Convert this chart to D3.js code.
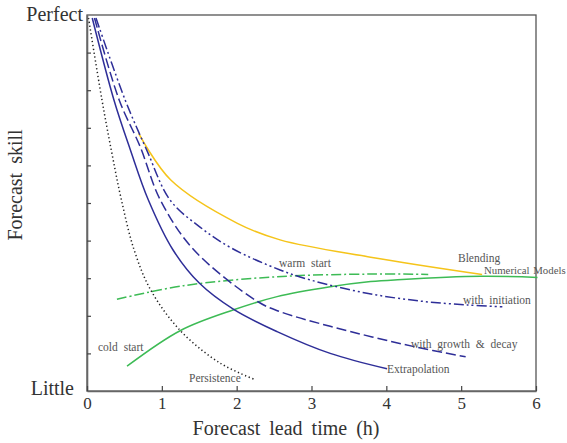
<!DOCTYPE html>
<html>
<head>
<meta charset="utf-8">
<script src="https://cdn.jsdelivr.net/npm/d3@7"></script>
<style>
  html, body { margin: 0; padding: 0; background: #fff; }
  svg text { font-family: "Liberation Serif", "Times New Roman", serif; }
</style>
</head>
<body>
<svg id="canvas"></svg>
<script>
// skill curves, [lead time (h), skill 0..10]
const persistence = [[0.02, 9.92], [0.2, 7.74], [0.33, 6.35], [0.46, 5.08], [0.63, 3.75], [0.85, 2.69], [1.25, 1.6], [1.78, 0.74], [2.25, 0.3]];
const extrapolation = [[0.07, 9.92], [0.36, 7.74], [0.58, 6.41], [0.82, 5.08], [1.15, 3.75], [1.5, 2.87], [1.96, 2.17], [2.54, 1.58], [3.25, 1.0], [4.01, 0.59]];
const growthDecay = [[0.1, 9.92], [0.43, 7.74], [0.71, 6.5], [0.98, 5.08], [1.43, 3.75], [2.28, 2.38], [2.58, 2.11], [3.25, 1.72], [4.37, 1.18], [5.06, 0.91]];
const initiation = [[0.12, 9.92], [0.51, 7.74], [0.8, 6.4], [1.11, 5.08], [1.51, 4.36], [1.94, 3.79], [2.58, 3.22], [2.99, 2.95], [3.74, 2.6], [4.46, 2.39], [5.08, 2.29], [5.55, 2.24]];
const blending = [[0.69, 6.85], [1.12, 5.61], [2.01, 4.46], [2.58, 4.02], [3.79, 3.56], [5.28, 3.1]];
const numerical = [[0.535, 0.66], [1.25, 1.61], [1.96, 2.16], [2.54, 2.51], [3.25, 2.77], [3.79, 2.91], [4.15, 2.96], [5.26, 3.05], [6.02, 3.02]];
const warmStart = [[0.4, 2.44], [1.29, 2.8], [2.54, 3.04], [3.79, 3.11], [4.56, 3.1]];

const xTicks = [0, 1, 2, 3, 4, 5, 6];
const yTicks = [1, 2, 3, 4, 5, 6, 7, 8, 9];

const width = 567;
const height = 443;
const padLeft = 87, padRight = 536, padTop = 15, padBottom = 391;

let canvas = d3.select('#canvas').attr('width', width).attr('height', height);

let xScale = d3.scaleLinear().domain([0, 6]).range([padLeft, padRight]);
let yScale = d3.scaleLinear().domain([0, 10]).range([padBottom, padTop]);

// frame
canvas.append('rect')
  .attr('x', padLeft).attr('y', padTop)
  .attr('width', padRight - padLeft).attr('height', padBottom - padTop)
  .attr('fill', 'none').attr('stroke', '#555').attr('stroke-width', 1.3);

let yAxis = d3.axisLeft(yScale).tickValues(yTicks).tickSize(-4).tickSizeOuter(0).tickFormat('');
let xAxis = d3.axisBottom(xScale).tickValues(xTicks).tickSize(-5).tickSizeOuter(0)
  .tickPadding(6).tickFormat(d3.format('d'));

let gy = canvas.append('g').attr('transform', `translate(${padLeft},0)`).call(yAxis);
let gx = canvas.append('g').attr('transform', `translate(0,${padBottom})`).call(xAxis);

[gx, gy].forEach(g => {
  g.select('.domain').attr('stroke', '#666').attr('stroke-width', 1.6);
  g.selectAll('.tick line').attr('stroke', '#444').attr('stroke-width', 1.2);
});
gx.selectAll('.tick text')
  .attr('font-family', '"Liberation Serif", serif')
  .attr('font-size', 17).attr('fill', '#333');

// curves
let line = d3.line()
  .x(d => xScale(d[0]))
  .y(d => yScale(d[1]))
  .curve(d3.curveCatmullRom.alpha(0.5));

const navy = '#2e2e98';
const series = [
  { data: warmStart, color: '#3dbb55', dash: '10,3,2,3' },
  { data: numerical, color: '#3dbb55', dash: null },
  { data: blending, color: '#f5c41a', dash: null },
  { data: persistence, color: '#222', dash: '1.3,2.6' },
  { data: extrapolation, color: navy, dash: null },
  { data: growthDecay, color: navy, dash: '10,4' },
  { data: initiation, color: navy, dash: '10,3,2,3,2,3' }
];

canvas.selectAll('path.curve')
  .data(series)
  .enter()
  .append('path')
  .attr('class', 'curve')
  .attr('d', s => line(s.data))
  .attr('fill', 'none')
  .attr('stroke', s => s.color)
  .attr('stroke-width', 1.5)
  .attr('stroke-dasharray', s => s.dash);

// curve labels: text, x, baseline y, size, word spacing
const labels = [
  ['Blending', 458, 262, 11.5, 3],
  ['Numerical Models', 484, 274, 10.8, 1],
  ['warm start', 279, 267, 11.5, 3],
  ['with initiation', 463, 304, 11.5, 3],
  ['with growth & decay', 411, 348, 11.5, 3],
  ['Extrapolation', 387, 373, 11.5, 3],
  ['cold start', 98, 351, 11.5, 3],
  ['Persistence', 189, 382, 11.5, 3]
];
canvas.selectAll('text.lab')
  .data(labels)
  .enter()
  .append('text')
  .attr('class', 'lab')
  .attr('x', d => d[1]).attr('y', d => d[2])
  .attr('font-size', d => d[3])
  .attr('word-spacing', d => d[4])
  .attr('fill', '#555')
  .text(d => d[0]);

// axis titles
canvas.append('text').attr('x', 83).attr('y', 21).attr('text-anchor', 'end')
  .attr('font-size', 20).attr('fill', '#333').text('Perfect');
canvas.append('text').attr('x', 74).attr('y', 395).attr('text-anchor', 'end')
  .attr('font-size', 20).attr('fill', '#333').text('Little');
canvas.append('text').attr('x', 286).attr('y', 435).attr('text-anchor', 'middle')
  .attr('font-size', 20).attr('word-spacing', 4).attr('fill', '#333').text('Forecast lead time (h)');
canvas.append('text').attr('transform', 'translate(22,185) rotate(-90)').attr('text-anchor', 'middle')
  .attr('font-size', 20).attr('word-spacing', 4).attr('fill', '#333').text('Forecast skill');
</script>
</body>
</html>
